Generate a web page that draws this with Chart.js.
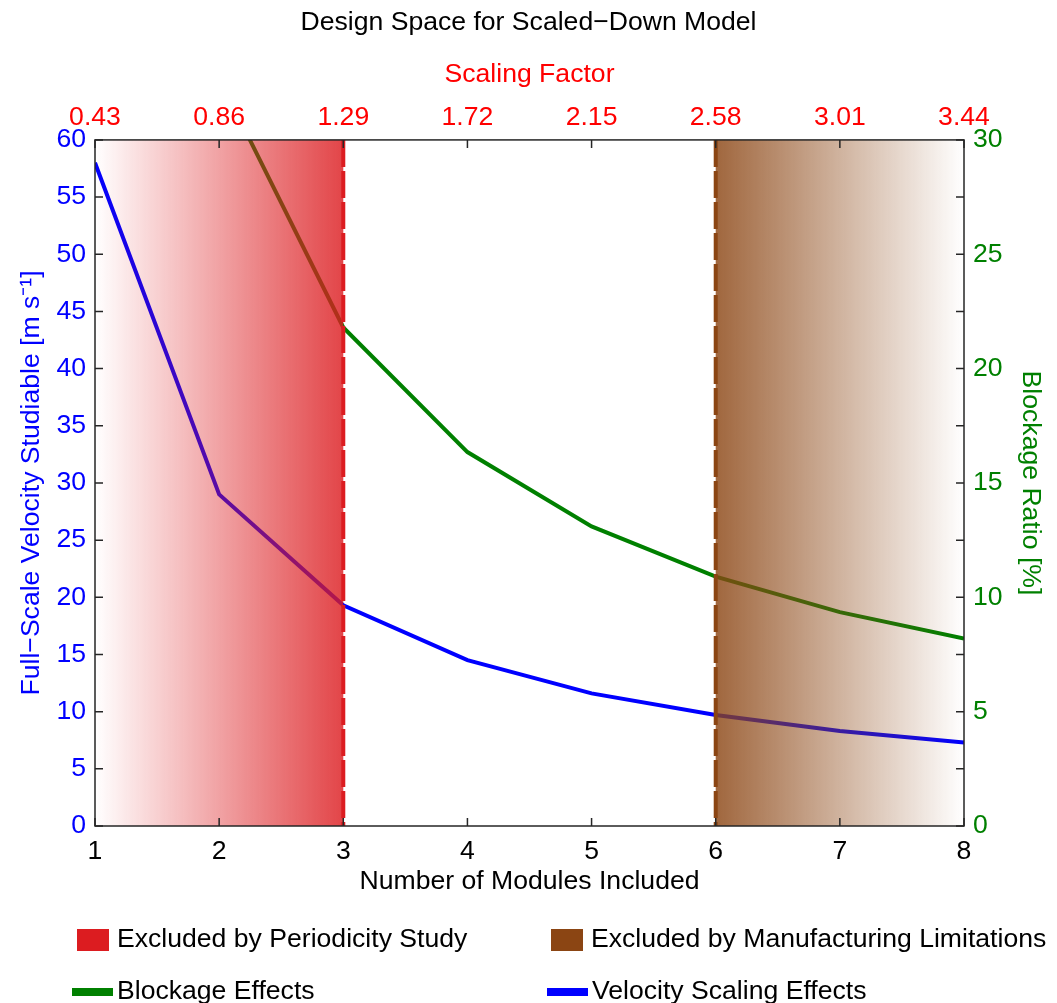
<!DOCTYPE html>
<html>
<head>
<meta charset="utf-8">
<title>Design Space for Scaled-Down Model</title>
<script src="https://cdn.jsdelivr.net/npm/chart.js"></script>
<style>
  html, body { margin: 0; padding: 0; background: #fff; }
</style>
</head>
<body>
<canvas id="myChart" width="1057" height="1003"></canvas>
<script>
// number of modules on the bottom axis, scaling factor on the top one
const modules = [1, 2, 3, 4, 5, 6, 7, 8];
const scalingFactor = ["0.43", "0.86", "1.29", "1.72", "2.15", "2.58", "3.01", "3.44"];

// full-scale velocity studiable [m/s] (left axis)
const velocity = [58, 29, 19.3, 14.5, 11.6, 9.7, 8.3, 7.3];
// blockage ratio [%] (right axis)
const blockage = [65.5, 32.7, 21.8, 16.35, 13.1, 10.9, 9.35, 8.2];

// excluded module ranges
const periodicityRange = [1, 3];
const manufacturingRange = [6, 8];

const FONT = "'Liberation Sans', Arial, Helvetica, sans-serif";
const SIZE = 26.6;
const RED = [220, 28, 32];
const BROWN = [139, 69, 19];
const rgba = (c, a) => `rgba(${c[0]},${c[1]},${c[2]},${a})`;

function shade(ctx, x0, x1, area, from, to) {
  const g = ctx.createLinearGradient(x0, 0, x1, 0);
  g.addColorStop(0, from);
  g.addColorStop(1, to);
  ctx.fillStyle = g;
  ctx.fillRect(x0, area.top, x1 - x0, area.bottom - area.top);
}

function dashedLine(ctx, px, area, color) {
  ctx.save();
  ctx.strokeStyle = color;
  ctx.lineWidth = 4;
  ctx.setLineDash([27, 4]);
  ctx.beginPath();
  ctx.moveTo(px, area.top);
  ctx.lineTo(px, area.bottom);
  ctx.stroke();
  ctx.restore();
}

const overlays = {
  id: 'overlays',
  afterDatasetsDraw(chart) {
    const {ctx, chartArea: area, scales: {x}} = chart;
    ctx.save();
    shade(ctx, x.getPixelForValue(periodicityRange[0]), x.getPixelForValue(periodicityRange[1]), area,
      rgba(RED, 0), rgba(RED, 0.82));
    shade(ctx, x.getPixelForValue(manufacturingRange[0]), x.getPixelForValue(manufacturingRange[1]), area,
      rgba(BROWN, 0.82), rgba(BROWN, 0));
    ctx.restore();
    dashedLine(ctx, x.getPixelForValue(periodicityRange[1]), area, rgba(RED, 1));
    dashedLine(ctx, x.getPixelForValue(manufacturingRange[0]), area, rgba(BROWN, 1));
  },
  afterDraw(chart) {
    const {ctx, chartArea: a, scales: {x, y}} = chart;
    const len = 8;
    ctx.save();
    // axes box with inward ticks on all four sides
    ctx.strokeStyle = '#262626';
    ctx.lineWidth = 1.5;
    ctx.strokeRect(a.left, a.top, a.right - a.left, a.bottom - a.top);
    ctx.beginPath();
    modules.forEach(m => {
      const px = x.getPixelForValue(m);
      ctx.moveTo(px, a.bottom); ctx.lineTo(px, a.bottom - len);
      ctx.moveTo(px, a.top); ctx.lineTo(px, a.top + len);
    });
    for (let v = 0; v <= 60; v += 5) {
      const py = y.getPixelForValue(v);
      ctx.moveTo(a.left, py); ctx.lineTo(a.left + len, py);
      ctx.moveTo(a.right, py); ctx.lineTo(a.right - len, py);
    }
    ctx.stroke();

    // legend
    const items = [
      {text: 'Excluded by Periodicity Study', color: rgba(RED, 1), box: true, x: 77, y: 940},
      {text: 'Excluded by Manufacturing Limitations', color: rgba(BROWN, 1), box: true, x: 551, y: 940},
      {text: 'Blockage Effects', color: '#008000', box: false, x: 72, y: 992},
      {text: 'Velocity Scaling Effects', color: '#0000ff', box: false, x: 547, y: 992}
    ];
    ctx.font = `${SIZE}px ${FONT}`;
    ctx.textBaseline = 'middle';
    ctx.textAlign = 'left';
    items.forEach(it => {
      ctx.fillStyle = it.color;
      if (it.box) {
        ctx.fillRect(it.x, it.y - 11, 32, 22);
      } else {
        ctx.fillRect(it.x, it.y - 4, 41, 8);
      }
      ctx.fillStyle = '#000';
      ctx.fillText(it.text, it.x + 40 + (it.box ? 0 : 5), it.y);
    });
    ctx.restore();
  }
};

new Chart("myChart", {
  type: "line",
  data: {
    datasets: [{
      label: 'Velocity Scaling Effects',
      data: modules.map((m, i) => ({x: m, y: velocity[i]})),
      borderColor: "#0000ff",
      borderWidth: 4,
      pointRadius: 0,
      fill: false,
      xAxisID: 'x',
      yAxisID: 'y',
      clip: 0
    }, {
      label: 'Blockage Effects',
      data: modules.map((m, i) => ({x: m, y: blockage[i]})),
      borderColor: "#008000",
      borderWidth: 4,
      pointRadius: 0,
      fill: false,
      xAxisID: 'x',
      yAxisID: 'y2',
      clip: 0
    }]
  },
  options: {
    responsive: false,
    animation: false,
    layout: {padding: {top: 0, left: 0, right: 0, bottom: 103}},
    plugins: {
      legend: {display: false},
      tooltip: {enabled: false},
      title: {
        display: true,
        text: 'Design Space for Scaled\u2212Down Model',
        color: '#000',
        font: {family: FONT, size: SIZE, weight: 'normal', lineHeight: 1.2},
        padding: {top: 7, bottom: 5}
      }
    },
    scales: {
      x: {
        type: 'linear', position: 'bottom', min: 1, max: 8,
        afterFit: s => { s.height = 74; },
        grid: {display: false, drawTicks: false},
        border: {display: false},
        ticks: {stepSize: 1, color: '#000', padding: 10, font: {family: FONT, size: SIZE}},
        title: {display: true, text: 'Number of Modules Included', color: '#000',
          font: {family: FONT, size: SIZE, lineHeight: 1.2}, padding: {top: 0, bottom: 2}}
      },
      x2: {
        type: 'linear', position: 'top', min: 1, max: 8,
        afterFit: s => { s.height = 96; },
        grid: {display: false, drawTicks: false},
        border: {display: false},
        ticks: {stepSize: 1, color: '#ff0000', padding: 6, font: {family: FONT, size: SIZE},
          callback: v => scalingFactor[modules.indexOf(v)]},
        title: {display: true, text: 'Scaling Factor', color: '#ff0000',
          font: {family: FONT, size: SIZE, lineHeight: 1.2}, padding: {top: 15, bottom: 0}}
      },
      y: {
        type: 'linear', position: 'left', min: 0, max: 60,
        afterFit: s => { s.width = 95; },
        grid: {display: false, drawTicks: false},
        border: {display: false},
        ticks: {stepSize: 5, color: '#0000ff', padding: 9, font: {family: FONT, size: SIZE}},
        title: {display: true, text: 'Full\u2212Scale Velocity Studiable [m s\u207B\u00B9]', color: '#0000ff',
          font: {family: FONT, size: SIZE, lineHeight: 1.2}, padding: {top: 16, bottom: 0}}
      },
      y2: {
        type: 'linear', position: 'right', min: 0, max: 30,
        afterFit: s => { s.width = 93; },
        grid: {display: false, drawTicks: false},
        border: {display: false},
        ticks: {stepSize: 5, color: '#008000', padding: 9, font: {family: FONT, size: SIZE}},
        title: {display: true, text: 'Blockage Ratio [%]', color: '#008000',
          font: {family: FONT, size: SIZE, lineHeight: 1.2}, padding: {top: 11, bottom: 0}}
      }
    }
  },
  plugins: [overlays]
});
</script>
</body>
</html>
